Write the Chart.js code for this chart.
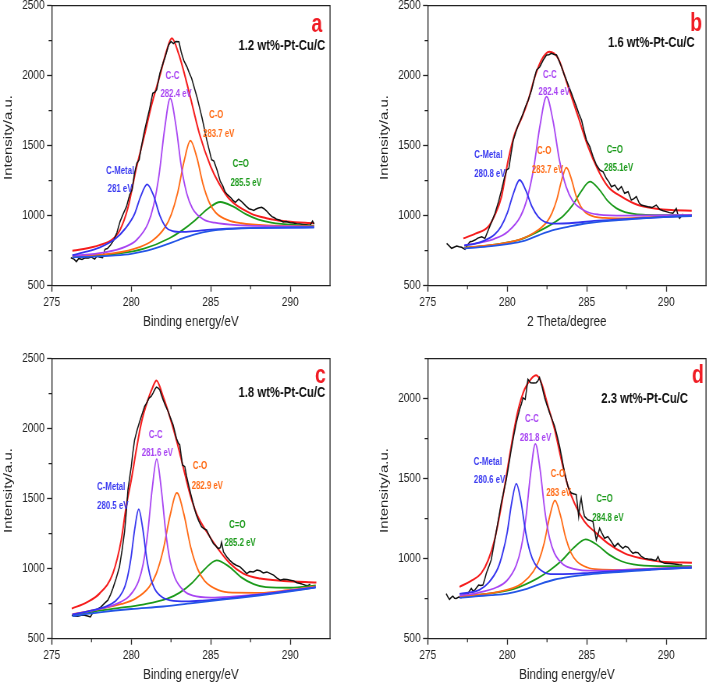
<!DOCTYPE html>
<html><head><meta charset="utf-8">
<script src="https://cdn.jsdelivr.net/npm/chart.js@4.4.1/dist/chart.umd.min.js"></script>
<style>
html,body{margin:0;padding:0;background:#fff;overflow:hidden;width:709px;height:684px}
.panel{position:absolute;transform:scaleX(0.78);transform-origin:0 0}
canvas{display:block}
</style></head><body>
<div class="panel" style="left:0px;top:0px"><canvas id="ca" width="430" height="331" style="width:430px;height:331px"></canvas></div>
<div class="panel" style="left:376px;top:0px"><canvas id="cb" width="430" height="331" style="width:430px;height:331px"></canvas></div>
<div class="panel" style="left:0px;top:353px"><canvas id="cc" width="430" height="331" style="width:430px;height:331px"></canvas></div>
<div class="panel" style="left:376px;top:353px"><canvas id="cd" width="430" height="331" style="width:430px;height:331px"></canvas></div>
<script>
// ---------- tick settings ----------
const xTicksMajor = [275, 280, 285, 290];
const yTicksMajor = [500, 1000, 1500, 2000, 2500];
const xTicksMinor = [277.5, 282.5, 287.5];
const yTicksMinor = [750, 1250, 1750, 2250];

// ---------- panel a (1.2 wt%) ----------
const aRaw = [[276.2,700],[276.4,690],[276.55,672],[276.7,695],[276.9,688],[277.1,700],[277.3,698],[277.5,705],[277.7,690],[277.85,712],[278.0,705],[278.2,700],[278.35,760],[278.5,765],[278.7,790],[278.9,826],[279.1,880],[279.3,960],[279.5,1015],[279.7,1064],[279.9,1150],[280.05,1185],[280.2,1300],[280.35,1374],[280.5,1400],[280.65,1500],[280.8,1590],[281.0,1690],[281.15,1760],[281.35,1874],[281.5,1885],[281.6,1900],[281.8,2017],[282.0,2090],[282.15,2140],[282.35,2220],[282.5,2245],[282.65,2230],[282.8,2245],[283.0,2243],[283.15,2165],[283.3,2110],[283.5,2064],[283.65,2020],[283.8,1980],[284.0,1900],[284.15,1840],[284.3,1770],[284.45,1700],[284.6,1620],[284.75,1540],[284.9,1470],[285.05,1400],[285.2,1390],[285.4,1325],[285.6,1245],[285.75,1215],[285.9,1170],[286.05,1150],[286.25,1130],[286.4,1110],[286.55,1095],[286.75,1118],[286.9,1105],[287.05,1088],[287.2,1070],[287.4,1050],[287.55,1045],[287.7,1038],[287.85,1048],[288.0,1055],[288.2,1060],[288.35,1050],[288.5,1035],[288.7,1010],[288.85,993],[289.0,985],[289.15,974],[289.35,968],[289.55,955],[289.75,958],[290.0,950],[290.2,948],[290.4,942],[290.6,940],[290.8,938],[291.0,935],[291.25,932],[291.4,962],[291.5,940]];
const aFit = [[276.3,750],[277,762],[278,790],[278.8,830],[279.3,900],[279.8,1060],[280.3,1330],[280.8,1560],[281.3,1800],[281.8,2000],[282.2,2170],[282.55,2267],[283.0,2150],[283.6,1900],[284.3,1580],[285,1350],[285.5,1235],[286.2,1115],[287.5,1017],[288.5,982],[289.8,958],[291.5,946]];
const aBg = [[276.3,703],[277,705],[278,709],[279,716],[280,728],[281,750],[282,786],[283,828],[284,866],[285,891],[286,904],[287,910],[288,913],[289.5,915],[291.5,916]];
const aMetal = [[276.3,718],[277,738],[278,772],[279,835],[279.6,905],[280.2,1010],[280.6,1140],[281,1224],[281.4,1145],[281.8,1000],[282.2,915],[282.6,890],[283.2,884],[284,890],[285,900],[287,911],[291.5,916]];
const aCC = [[276.3,715],[278.25,736],[279.65,779],[280.35,828],[281.05,943],[281.4,1071],[281.75,1292],[282.1,1621],[282.45,1838],[282.8,1651],[283.15,1351],[283.5,1155],[283.85,1052],[284.55,973],[285.25,950],[286.65,933],[291.5,922]];
const aCO = [[276.3,710],[278.92,732],[280.52,776],[281.32,821],[282.12,917],[282.52,1010],[282.92,1164],[283.32,1388],[283.72,1536],[284.12,1418],[284.52,1222],[284.92,1091],[285.32,1021],[286.12,966],[286.92,946],[288.52,930],[291.5,923]];
const aCdO = [[276.3,708],[279.2,729],[280.8,764],[282.4,839],[283.2,895],[284.0,966],[284.8,1048],[285.6,1098],[286.4,1066],[287.2,1011],[288.0,972],[288.8,951],[290.4,933],[291.5,928]];

// ---------- panel b (1.6 wt%) ----------
const bRaw = [[276.19,802],[276.35,785],[276.5,767],[276.65,775],[276.82,783],[276.98,778],[277.13,774],[277.34,760],[277.5,790],[277.66,814],[277.8,818],[277.97,826],[278.15,840],[278.39,850],[278.6,838],[278.81,898],[279.0,950],[279.23,1017],[279.45,1100],[279.64,1183],[279.8,1260],[279.96,1326],[280.1,1338],[280.25,1450],[280.38,1540],[280.55,1600],[280.69,1648],[280.85,1690],[281.0,1731],[281.15,1780],[281.32,1826],[281.53,1898],[281.7,1980],[281.84,2040],[282.05,2064],[282.26,2112],[282.47,2148],[282.62,2150],[282.78,2160],[282.95,2152],[283.1,2148],[283.25,2110],[283.41,2064],[283.56,2015],[283.72,1969],[283.88,1920],[284.04,1874],[284.2,1825],[284.35,1779],[284.5,1730],[284.67,1683],[284.82,1610],[284.98,1540],[285.19,1493],[285.4,1421],[285.61,1362],[285.82,1326],[286.03,1314],[286.23,1267],[286.4,1240],[286.55,1207],[286.76,1219],[286.97,1183],[287.18,1207],[287.38,1160],[287.6,1171],[287.8,1112],[287.95,1120],[288.12,1136],[288.3,1090],[288.43,1076],[288.65,1070],[288.85,1064],[289.1,1058],[289.37,1076],[289.58,1045],[289.8,1035],[290.0,1029],[290.2,1022],[290.42,1017],[290.63,1052],[290.75,1000],[290.84,981],[291.05,1012]];
const bFit = [[277.24,838],[278.0,872],[278.8,921],[279.2,1000],[279.64,1136],[280.06,1398],[280.48,1588],[280.9,1695],[281.32,1826],[281.74,1993],[282.15,2112],[282.64,2171],[283.2,2124],[283.83,1921],[284.46,1707],[285.08,1493],[285.71,1326],[286.34,1207],[287.18,1136],[288.22,1076],[289.27,1052],[290.31,1040],[291.6,1036]];
const bBg = [[277.3,767],[278,772],[279,782],[280,797],[281,818],[282,862],[283,900],[284,925],[285,946],[286,960],[287,968],[288,977],[289,985],[290,992],[291.6,998]];
const bMetal = [[277.3,787],[278,801],[278.44,816],[279.22,867],[279.61,923],[280,1018],[280.39,1160],[280.78,1255],[281.17,1180],[281.56,1064],[281.95,992],[282.34,957],[283.12,943],[283.9,946],[285.46,963],[287.02,974],[291.6,1000]];
const bCC = [[277.3,788],[278.37,810],[279.19,835],[280.01,884],[280.83,994],[281.24,1118],[281.65,1332],[282.06,1644],[282.47,1850],[282.88,1676],[283.29,1392],[283.7,1207],[284.11,1107],[284.93,1032],[285.75,1008],[287.39,1000],[289.03,1002],[291.6,1006]];
const bCO = [[277.3,770],[279.52,798],[280.72,827],[281.32,855],[281.92,896],[282.52,960],[282.82,1021],[283.12,1116],[283.42,1253],[283.72,1343],[284.02,1267],[284.32,1145],[284.62,1065],[284.92,1023],[285.52,991],[286.12,984],[287.32,981],[288.52,987],[291.6,1001]];
const bCdO = [[277.3,772],[278.6,785],[280.8,829],[281.9,884],[283.0,954],[283.55,1001],[284.1,1073],[284.65,1174],[285.2,1243],[285.75,1192],[286.3,1108],[286.85,1054],[287.4,1026],[288.5,1007],[289.6,1004],[291.6,1005]];

// ---------- panel c (1.8 wt%) ----------
const cRaw = [[276.26,667],[276.45,662],[276.64,660],[276.85,668],[277.06,667],[277.25,662],[277.43,655],[277.55,680],[277.69,698],[277.9,712],[278.1,727],[278.3,750],[278.53,775],[278.7,815],[278.84,858],[279.05,930],[279.26,1013],[279.42,1130],[279.58,1264],[279.7,1420],[279.79,1562],[279.9,1650],[280.0,1729],[280.1,1830],[280.21,1920],[280.37,1990],[280.53,2052],[280.7,2110],[280.84,2159],[281.0,2190],[281.12,2219],[281.25,2230],[281.37,2254],[281.48,2280],[281.58,2297],[281.7,2290],[281.79,2278],[281.9,2240],[282.0,2207],[282.15,2165],[282.32,2123],[282.47,2075],[282.63,2028],[282.75,1975],[282.84,1932],[282.95,1900],[283.05,1884],[283.15,1800],[283.22,1741],[283.37,1729],[283.48,1660],[283.58,1610],[283.75,1530],[283.89,1467],[284.0,1420],[284.1,1383],[284.25,1340],[284.42,1300],[284.58,1285],[284.74,1276],[284.95,1225],[285.16,1180],[285.3,1165],[285.47,1144],[285.6,1150],[285.68,1188],[285.8,1120],[286.0,1085],[286.2,1060],[286.42,1037],[286.6,1025],[286.84,1013],[287.05,990],[287.26,965],[287.45,980],[287.68,977],[287.9,990],[288.1,985],[288.3,970],[288.53,977],[288.75,965],[288.95,954],[289.15,935],[289.37,918],[289.58,925],[289.79,922],[290.0,918],[290.21,913],[290.42,900],[290.63,894],[290.8,888],[290.95,882],[291.1,878],[291.26,889]];
const cFit = [[276.26,715],[277.2,760],[278.0,822],[278.84,965],[279.37,1204],[279.68,1443],[280.0,1634],[280.32,1849],[280.63,2040],[281.05,2207],[281.37,2302],[281.58,2345],[282.0,2231],[282.42,2087],[282.84,1920],[283.26,1729],[283.68,1538],[284.1,1395],[284.74,1264],[285.37,1156],[286.21,1037],[287.05,965],[288.1,930],[289.58,913],[291.64,901]];
const cBg = [[276.3,662],[278,688],[280,712],[282,730],[284,756],[286,782],[288,808],[290,838],[291.6,866]];
const cMetal = [[276.3,671],[277.47,700],[278.47,733],[278.97,765],[279.47,838],[279.72,920],[279.97,1067],[280.22,1284],[280.47,1425],[280.72,1289],[280.97,1076],[281.22,934],[281.47,857],[281.97,794],[282.47,774],[283.47,766],[284.47,772],[286.5,794],[291.6,867]];
const cCC = [[276.3,674],[277.6,703],[278.75,735],[279.32,761],[279.89,806],[280.46,912],[280.75,1034],[281.03,1249],[281.32,1573],[281.6,1782],[281.88,1578],[282.17,1260],[282.45,1051],[282.74,936],[283.31,842],[283.88,807],[285.02,794],[286.16,799],[288,816],[291.6,869]];
const cCO = [[276.3,675],[277.65,704],[279.39,748],[280.26,786],[281.13,871],[281.57,964],[282.0,1130],[282.44,1379],[282.87,1541],[283.31,1390],[283.74,1153],[284.18,996],[284.61,913],[285.48,847],[286.35,829],[288.09,828],[289.83,846],[291.6,873]];
const cCdO = [[276.3,669],[277.62,694],[279.17,718],[280.72,744],[282.27,786],[283.05,829],[283.82,898],[284.6,995],[285.37,1060],[286.15,1015],[286.92,938],[287.7,890],[288.47,868],[290.02,864],[291.6,881]];

// ---------- panel d (2.3 wt%) ----------
const dRaw = [[276.16,782],[276.27,760],[276.37,745],[276.48,758],[276.58,766],[276.69,752],[276.79,751],[276.95,760],[277.11,757],[277.32,765],[277.53,782],[277.64,800],[277.74,814],[277.85,798],[277.95,803],[278.08,820],[278.2,835],[278.33,832],[278.47,835],[278.58,870],[278.68,908],[278.84,950],[278.99,992],[279.15,1080],[279.31,1169],[279.47,1260],[279.62,1347],[279.78,1420],[279.94,1494],[280.1,1590],[280.25,1682],[280.41,1770],[280.57,1849],[280.67,1890],[280.78,1933],[280.9,1970],[280.99,2006],[281.13,1996],[281.22,2060],[281.3,2121],[281.47,2100],[281.65,2098],[281.82,2100],[281.92,2110],[282.03,2132],[282.2,2070],[282.35,2006],[282.5,1960],[282.66,1912],[282.82,1870],[282.98,1828],[283.13,1770],[283.29,1703],[283.45,1620],[283.61,1536],[283.72,1490],[283.82,1452],[283.93,1425],[284.03,1410],[284.2,1405],[284.34,1400],[284.42,1330],[284.49,1264],[284.57,1340],[284.65,1379],[284.75,1310],[284.86,1264],[285.07,1243],[285.25,1238],[285.39,1232],[285.5,1170],[285.6,1117],[285.7,1150],[285.81,1190],[285.95,1160],[286.12,1128],[286.33,1138],[286.54,1107],[286.75,1075],[286.96,1096],[287.1,1080],[287.27,1065],[287.42,1078],[287.59,1071],[287.75,1050],[287.9,1033],[288.05,1040],[288.22,1038],[288.43,1015],[288.64,1002],[288.85,998],[289.06,996],[289.25,990],[289.37,992],[289.48,1013],[289.6,985],[289.9,971],[290.2,970],[290.52,967],[290.8,962],[291.0,960]];
const dFit = [[277.0,824],[277.7,860],[278.36,908],[278.8,990],[279.2,1117],[279.62,1326],[280.04,1577],[280.36,1766],[280.67,1923],[281.09,2059],[281.51,2125],[281.82,2146],[282.14,2100],[282.56,1954],[282.98,1808],[283.4,1619],[283.82,1452],[284.23,1347],[284.86,1232],[285.49,1169],[286.33,1096],[287.38,1033],[288.43,1002],[289.69,981],[291.61,975]];
const dBg = [[277,755],[278,765],[279,772],[280,782],[281,805],[282,840],[283,870],[284,888],[285,901],[286,910],[287,917],[288,924],[289,931],[290,937],[291.6,943]];
const dMetal = [[277,780],[278.25,805],[278.83,850],[279.41,940],[279.7,1030],[279.99,1160],[280.28,1350],[280.57,1469],[280.86,1360],[281.15,1170],[281.44,1040],[281.73,970],[282.31,915],[282.89,903],[284.05,905],[285.21,912],[287.5,926],[291.6,945]];
const dCC = [[277,770],[278.17,787],[279.37,823],[279.97,862],[280.57,960],[280.87,1066],[281.17,1254],[281.47,1533],[281.77,1718],[282.07,1554],[282.37,1294],[282.67,1124],[282.97,1034],[283.57,960],[284.17,937],[285.37,925],[286.57,926],[288.5,935],[291.6,947]];
const dCO = [[277,765],[278.92,783],[280.28,814],[280.96,848],[281.64,920],[281.98,986],[282.32,1097],[282.66,1260],[283.0,1364],[283.34,1273],[283.68,1129],[284.02,1035],[284.36,985],[285.04,945],[285.72,933],[287.08,930],[288.44,934],[291.6,946]];
const dCdO = [[277,762],[278.93,783],[280.43,812],[281.93,879],[282.68,928],[283.43,989],[284.18,1068],[284.93,1121],[285.68,1084],[286.43,1024],[287.18,984],[287.93,965],[289.43,954],[291.6,953]];

// ---------- text ----------
const panelLetters = ['a','b','c','d'];
const sampleNames = ['1.2 wt%-Pt-Cu/C','1.6 wt%-Pt-Cu/C','1.8 wt%-Pt-Cu/C','2.3 wt%-Pt-Cu/C'];
const xTitles = ['Binding energy/eV','2 Theta/degree','Binding energy/eV','Binding energy/eV'];
const yTitle = 'Intensity/a.u.';
const peakNames = ['C-Metal','C-C','C-O','C=O'];
const peakPos = [['281 eV','282.4 eV','283.7 eV','285.5 eV'],['280.8 eV','282.4 eV','283.7 eV','285.1eV'],['280.5 eV','281.6 eV','282.9 eV','285.2 eV'],['280.6 eV','281.8 eV','283 eV','284.8 eV']];

// ---------- styles ----------
const COL = {bg:'#2456e6', metal:'#3434ee', cc:'#a845f2', co:'#ff6a14', cdo:'#1c9a1c', raw:'#111111', fit:'#f51d1d'};
const labelCol = ['#3b3bf0','#a845f2','#ff6a14','#1c9a1c'];
const FONT = "'Liberation Sans', Arial, Helvetica, sans-serif";
Chart.defaults.font.family = FONT;

// label anchor positions (data coords) : [name x,y , value x,y] per peak
const labelPlace = [
  [[279.3,1319,279.3,1190],[282.59,1998,282.82,1869],[285.34,1714,285.5,1583],[286.89,1364,287.22,1233]],
  [[278.81,1433,278.91,1298],[282.68,2005,282.95,1879],[282.32,1462,282.53,1326],[286.76,1469,287.0,1338]],
  [[278.74,1579,278.84,1443],[281.54,1956,281.64,1825],[284.32,1729,284.78,1591],[286.67,1312,286.84,1180]],
  [[278.78,1602,278.89,1490],[281.55,1870,281.78,1755],[283.19,1525,283.23,1406],[286.12,1372,286.33,1253]]
];
const letterPlace = [[291.67,2362],[291.88,2369],[291.89,2379],[291.99,2142]];
const namePlace = [[289.47,2214],[289.06,2231],[289.47,2254],[288.64,1996]];

const deco = {
  id: 'deco',
  afterDraw(chart, args, o) {
    const {ctx, chartArea: a, scales: {x, y}} = chart;
    ctx.save();
    ctx.strokeStyle = '#222'; ctx.lineWidth = 1.3;
    ctx.beginPath();
    ctx.moveTo(a.left, a.top); ctx.lineTo(a.right, a.top); ctx.lineTo(a.right, a.bottom);
    ctx.stroke();
    ctx.beginPath(); ctx.lineWidth = 1.2;
    for (const v of xTicksMinor) { const px = x.getPixelForValue(v); ctx.moveTo(px, a.bottom); ctx.lineTo(px, a.bottom + 3.5); }
    for (const v of yTicksMinor) { if (v > y.max) continue; const py = y.getPixelForValue(v); ctx.moveTo(a.left, py); ctx.lineTo(a.left - 4, py); }
    ctx.stroke();
    ctx.fillStyle = '#222'; ctx.textAlign = 'center'; ctx.textBaseline = 'middle';
    ctx.font = '15px ' + FONT;
    ctx.fillText(o.xTitle, (a.left + a.right) / 2, 321.5);
    ctx.save(); ctx.translate(10.6, 137.5); ctx.rotate(-Math.PI / 2); ctx.fillText(yTitle, 0, 0); ctx.restore();
    const i = o.idx;
    ctx.font = 'bold 10px ' + FONT;
    for (let k = 0; k < 4; k++) {
      const p = labelPlace[i][k];
      ctx.fillStyle = labelCol[k];
      ctx.fillText(peakNames[k], x.getPixelForValue(p[0]), y.getPixelForValue(p[1]));
      ctx.fillText(peakPos[i][k], x.getPixelForValue(p[2]), y.getPixelForValue(p[3]));
    }
    ctx.fillStyle = '#111'; ctx.font = 'bold 14.5px ' + FONT;
    ctx.fillText(sampleNames[i], x.getPixelForValue(namePlace[i][0]), y.getPixelForValue(namePlace[i][1]));
    ctx.fillStyle = '#f01c24'; ctx.font = 'bold 25px ' + FONT;
    ctx.fillText(panelLetters[i], x.getPixelForValue(letterPlace[i][0]), y.getPixelForValue(letterPlace[i][1]));
    ctx.restore();
  }
};

function line(pairs, color, w, smooth) {
  return {
    data: pairs.map(p => ({x: p[0], y: p[1]})),
    borderColor: color, borderWidth: w, pointRadius: 0, fill: false,
    tension: smooth ? 0.4 : 0, cubicInterpolationMode: smooth ? 'monotone' : 'default'
  };
}

function makePanel(id, idx, sets, yMax) {
  new Chart(document.getElementById(id), {
    type: 'line',
    data: {datasets: [
      line(sets.bg, COL.bg, 1.8, true),
      line(sets.metal, COL.metal, 1.8, true),
      line(sets.cc, COL.cc, 1.8, true),
      line(sets.co, COL.co, 1.8, true),
      line(sets.cdo, COL.cdo, 1.8, true),
      line(sets.raw, COL.raw, 1.5, false),
      line(sets.fit, COL.fit, 2.0, true)
    ]},
    options: {
      responsive: false, animation: false, events: [],
      layout: {padding: {top: 5.7, left: 0, right: 6.9, bottom: 0}},
      plugins: {legend: {display: false}, tooltip: {enabled: false}, deco: {idx: idx, xTitle: xTitles[idx]}},
      scales: {
        x: {
          type: 'linear', min: 275, max: 292.5,
          afterBuildTicks(s) { s.ticks = xTicksMajor.map(v => ({value: v})); },
          ticks: {maxRotation: 0, autoSkip: false, color: '#222', font: {size: 13}, padding: 3, callback: v => String(v)},
          grid: {drawOnChartArea: false, drawTicks: true, tickLength: 6, color: '#222', tickWidth: 1.3},
          border: {display: true, color: '#222', width: 1.3},
          afterFit(s) { s.height = 45.3; s.paddingLeft = 0; s.paddingRight = 0; }
        },
        y: {
          type: 'linear', min: 500, max: yMax,
          afterBuildTicks(s) { s.ticks = yTicksMajor.filter(v => v <= yMax).map(v => ({value: v})); },
          ticks: {autoSkip: false, color: '#222', font: {size: 13}, padding: 3, callback: v => String(v)},
          grid: {drawOnChartArea: false, drawTicks: true, tickLength: 6, color: '#222', tickWidth: 1.3},
          border: {display: true, color: '#222', width: 1.3},
          afterFit(s) { s.width = 66.3; s.paddingTop = 0; s.paddingBottom = 0; }
        }
      }
    },
    plugins: [deco]
  });
}

makePanel('ca', 0, {bg: aBg, metal: aMetal, cc: aCC, co: aCO, cdo: aCdO, raw: aRaw, fit: aFit}, 2500);
makePanel('cb', 1, {bg: bBg, metal: bMetal, cc: bCC, co: bCO, cdo: bCdO, raw: bRaw, fit: bFit}, 2500);
makePanel('cc', 2, {bg: cBg, metal: cMetal, cc: cCC, co: cCO, cdo: cCdO, raw: cRaw, fit: cFit}, 2500);
makePanel('cd', 3, {bg: dBg, metal: dMetal, cc: dCC, co: dCO, cdo: dCdO, raw: dRaw, fit: dFit}, 2250);
</script>
</body></html>
